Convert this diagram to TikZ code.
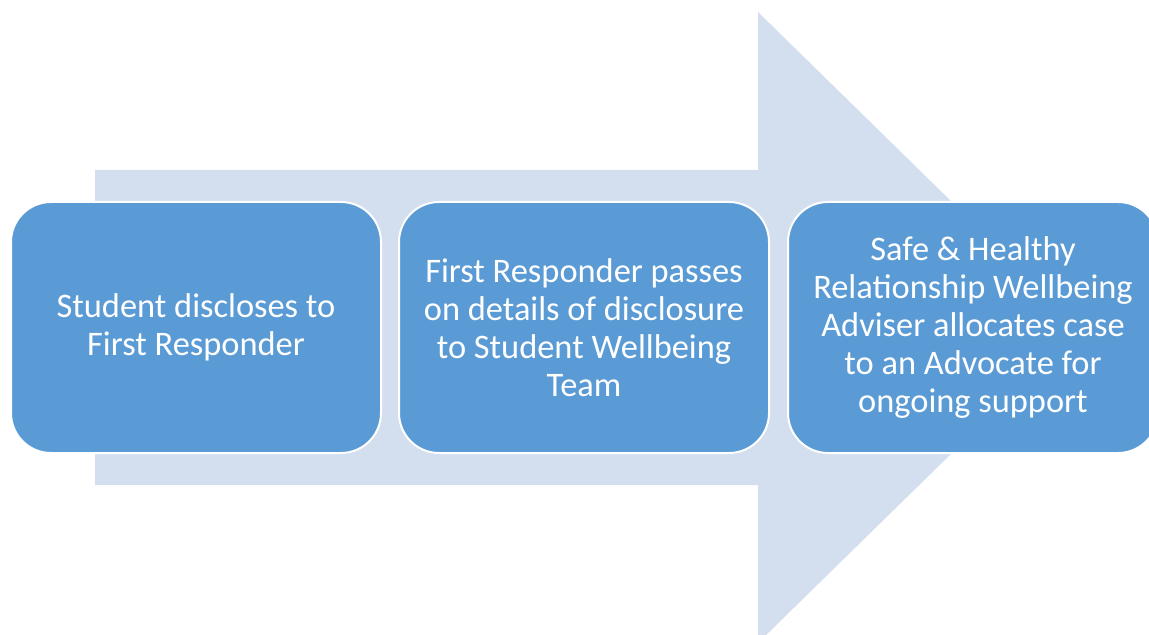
\documentclass[tikz,border=0pt]{standalone}
\usepackage{fontspec}
\setmainfont{Carlito}
\usepackage{tikz}
\usetikzlibrary{positioning}
\definecolor{arrowblue}{RGB}{211,222,239}
\definecolor{boxblue}{RGB}{91,155,213}

\begin{document}
\begin{tikzpicture}[x=0.5pt, y=-0.5pt,
  stepnode/.style={draw=white, line width=1pt, fill=boxblue, text=white, rounded corners=20pt,
    minimum width=185pt, minimum height=125.5pt, align=center,
    font=\fontsize{17.2pt}{19pt}\selectfont}]
  \useasboundingbox (0,0) rectangle (1149,635);
  \clip (0,0) rectangle (1149,635);
  \fill[arrowblue] (95,170) -- (758,170) -- (758,12) -- (1080,327.5) -- (758,643) -- (758,485) -- (95,485) -- cycle;
  \node[stepnode, anchor=west] (disclose) at (10,327.5) {Student discloses to\\First Responder};
  \node[stepnode, right=8pt of disclose] (pass) {First Responder passes\\on details of disclosure\\to Student Wellbeing\\Team};
  \node[stepnode, right=8.5pt of pass] (allocate) {Safe \& Healthy\\Relationship Wellbeing\\Adviser allocates case\\to an Advocate for\\ongoing support};
\end{tikzpicture}
\end{document}
